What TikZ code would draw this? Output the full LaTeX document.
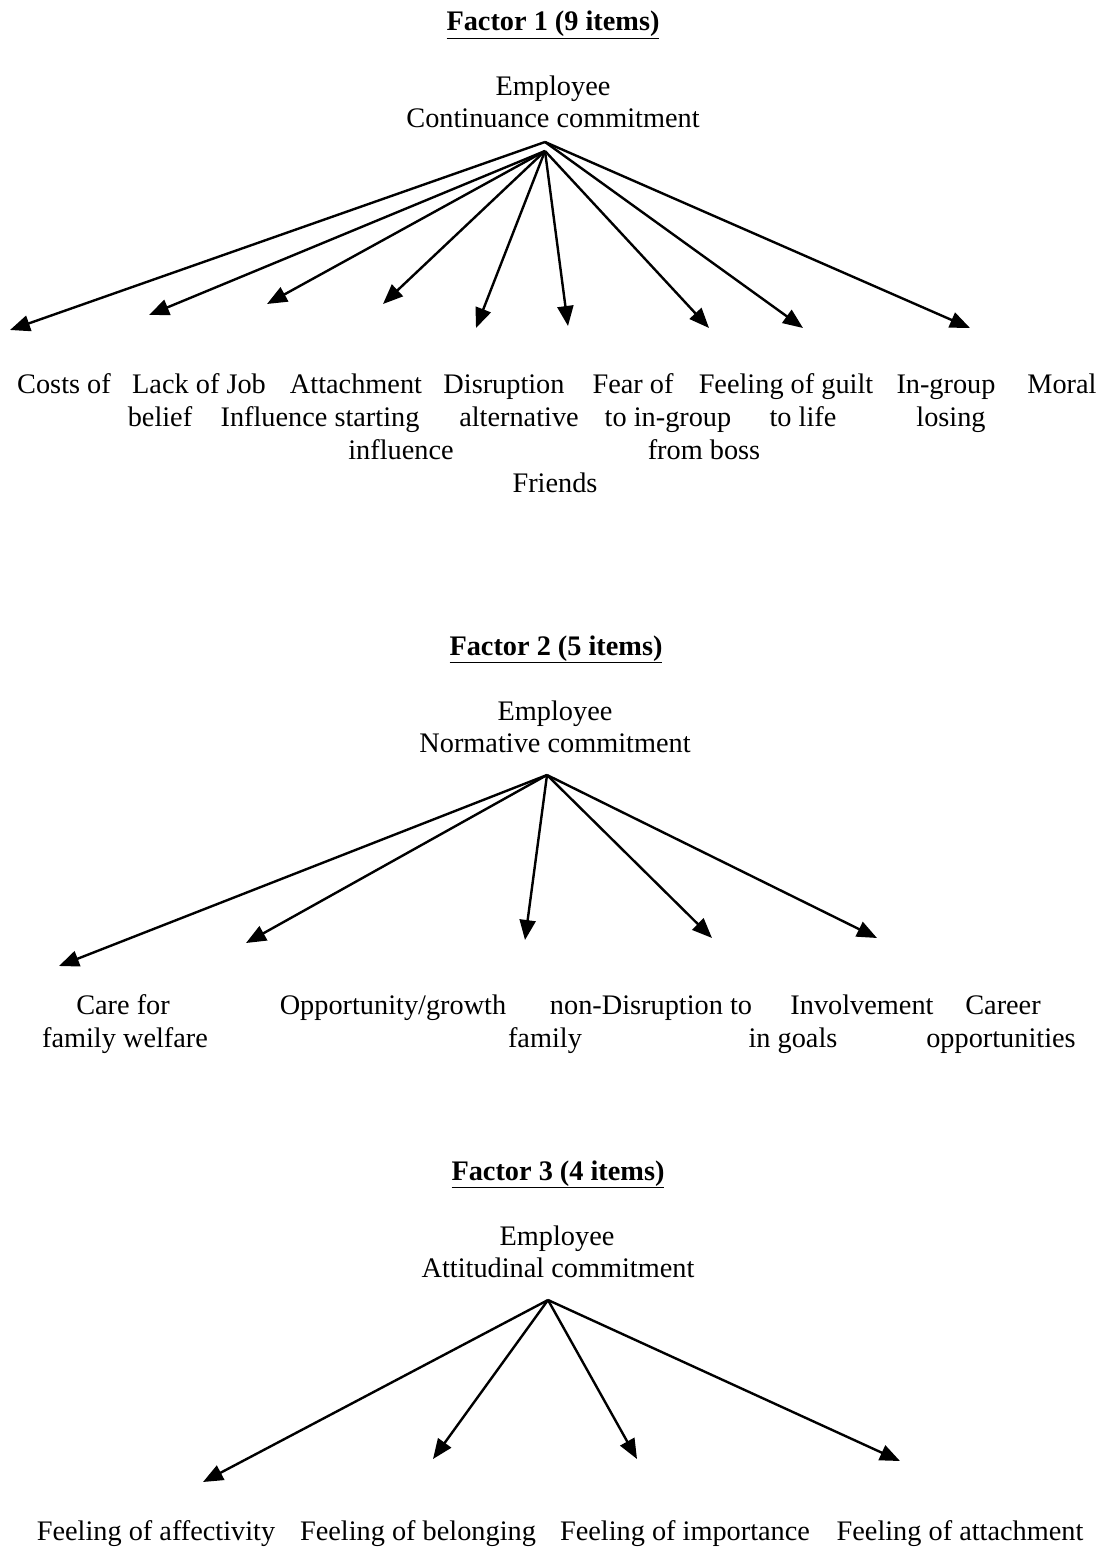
\documentclass[tikz,border=0pt]{standalone}
\usepackage{fontspec}
\setmainfont{Liberation Serif}
\usetikzlibrary{arrows.meta}

\tikzset{
  lbl/.style={anchor=base, inner sep=0pt, font=\fontsize{28.3}{34}\selectfont},
  ttl/.style={lbl, font=\fontsize{28.3}{34}\selectfont\bfseries},
  link/.style={line width=2.4pt, -{Triangle[length=20pt,width=16pt]}}
}

\begin{document}
\begin{tikzpicture}[x=1pt,y=-1pt]
\useasboundingbox (0,0) rectangle (1110,1549);

% ---------------- Factor 1 ----------------
\node[ttl] (t1) at (553,31) {\underline{Factor 1 (9 items)}};
\node[lbl] (e1) at (553,96) {Employee};
\node[lbl] (c1) at (553,128) {Continuance commitment};
\coordinate (a1) at (545,142);
\coordinate (b1) at (545,151);

\node[lbl] (f1a) at (64,393) {Costs of};
\node[lbl] (f1b) at (199,393) {Lack of Job};
\node[lbl] (f1c) at (356,393) {Attachment};
\node[lbl] (f1d) at (504,393) {Disruption};
\node[lbl] (f1e) at (633,393) {Fear of};
\node[lbl] (f1f) at (786,393) {Feeling of guilt};
\node[lbl] (f1g) at (946,393) {In-group};
\node[lbl] (f1h) at (1062,393) {Moral};
\node[lbl] (f1i) at (160,426) {belief};
\node[lbl] (f1j) at (320,426) {Influence starting};
\node[lbl] (f1k) at (519,426) {alternative};
\node[lbl] (f1l) at (668,426) {to in-group};
\node[lbl] (f1m) at (803,426) {to life};
\node[lbl] (f1n) at (951,426) {losing};
\node[lbl] (f1o) at (401,459) {influence};
\node[lbl] (f1p) at (704,459) {from boss};
\node[lbl] (f1q) at (555,492) {Friends};

\coordinate (p11) at (10,330);
\coordinate (p12) at (149,315);
\coordinate (p13) at (267,304);
\coordinate (p14) at (383,304);
\coordinate (p15) at (476,328);
\coordinate (p16) at (568,326);
\coordinate (p17) at (709,328);
\coordinate (p18) at (803,328);
\coordinate (p19) at (970,328);

\draw[link] (a1) -- (p11);
\draw[link] (b1) -- (p12);
\draw[link] (b1) -- (p13);
\draw[link] (b1) -- (p14);
\draw[link] (b1) -- (p15);
\draw[link] (b1) -- (p16);
\draw[link] (b1) -- (p17);
\draw[link] (a1) -- (p18);
\draw[link] (a1) -- (p19);

% ---------------- Factor 2 ----------------
\node[ttl] (t2) at (556,655) {\underline{Factor 2 (5 items)}};
\node[lbl] (e2) at (555,720) {Employee};
\node[lbl] (c2) at (555,752) {Normative commitment};
\coordinate (a2) at (547,775);

\node[lbl] (f2a) at (123,1014) {Care for};
\node[lbl] (f2b) at (393,1014) {Opportunity/growth};
\node[lbl] (f2c) at (651,1014) {non-Disruption to};
\node[lbl] (f2d) at (862,1014) {Involvement};
\node[lbl] (f2e) at (1003,1014) {Career};
\node[lbl] (f2f) at (125,1047) {family welfare};
\node[lbl] (f2g) at (545,1047) {family};
\node[lbl] (f2h) at (793,1047) {in goals};
\node[lbl] (f2i) at (1001,1047) {opportunities};

\coordinate (p21) at (59,966);
\coordinate (p22) at (246,943);
\coordinate (p23) at (525,940);
\coordinate (p24) at (712,938);
\coordinate (p25) at (877,938);

\draw[link] (a2) -- (p21);
\draw[link] (a2) -- (p22);
\draw[link] (a2) -- (p23);
\draw[link] (a2) -- (p24);
\draw[link] (a2) -- (p25);

% ---------------- Factor 3 ----------------
\node[ttl] (t3) at (558,1180) {\underline{Factor 3 (4 items)}};
\node[lbl] (e3) at (557,1245) {Employee};
\node[lbl] (c3) at (558,1277) {Attitudinal commitment};
\coordinate (a3) at (548,1300);

\node[lbl] (f3a) at (156,1540) {Feeling of affectivity};
\node[lbl] (f3b) at (418,1540) {Feeling of belonging};
\node[lbl] (f3c) at (685,1540) {Feeling of importance};
\node[lbl] (f3d) at (960,1540) {Feeling of attachment};

\coordinate (p31) at (203,1482);
\coordinate (p32) at (433,1459);
\coordinate (p33) at (637,1459);
\coordinate (p34) at (900,1461);

\draw[link] (a3) -- (p31);
\draw[link] (a3) -- (p32);
\draw[link] (a3) -- (p33);
\draw[link] (a3) -- (p34);
\end{tikzpicture}
\end{document}
